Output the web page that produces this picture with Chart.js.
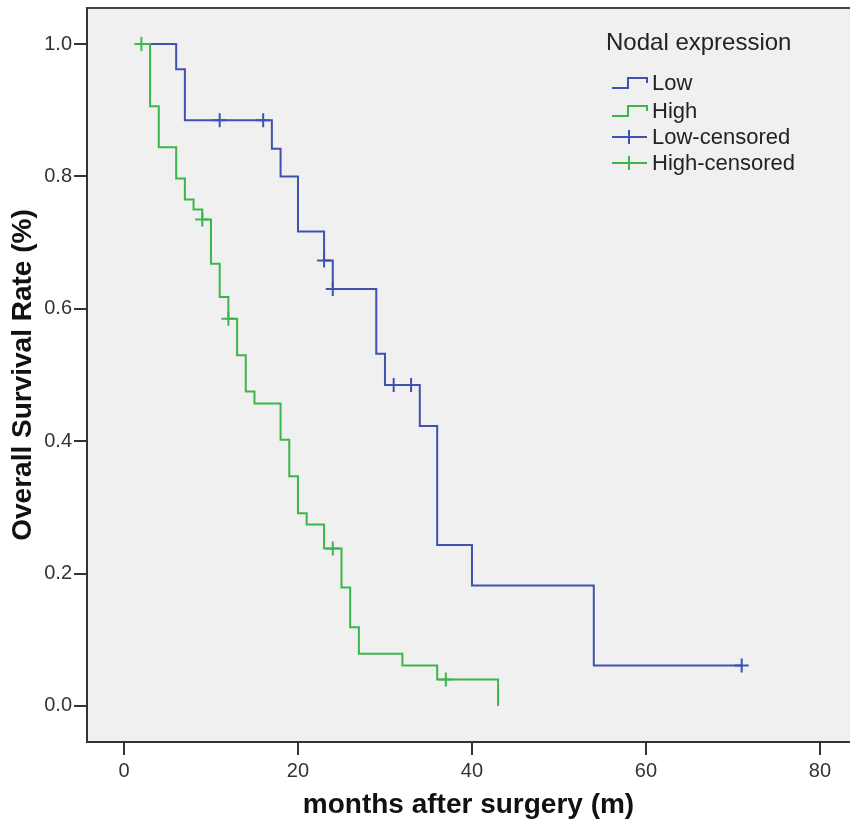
<!DOCTYPE html>
<html>
<head>
<meta charset="UTF-8">
<title>Overall survival by nodal expression</title>
<style>
  body { margin: 0; background: #fff; overflow: hidden; }
  .wrap { width: 850px; height: 827px; position: relative; }
</style>
</head>
<body>
<div class="wrap"><canvas id="km"></canvas></div>

<script src="https://cdn.jsdelivr.net/npm/chart.js"></script>
<script>
// Kaplan-Meier steps (months, survival)
const lowTimes = [2, 6, 7, 17, 18, 20, 23, 24, 29, 30, 34, 36, 40, 54, 71];
const lowSurv = [1.0, 0.962, 0.885, 0.842, 0.800, 0.717, 0.673, 0.630, 0.532, 0.485, 0.423, 0.243, 0.182, 0.061, 0.061];
const lowCensTimes = [11, 16, 23, 24, 31, 33, 71];
const lowCensSurv = [0.885, 0.885, 0.673, 0.630, 0.485, 0.485, 0.061];

const highTimes = [2, 3, 4, 6, 7, 8, 9, 10, 11, 12, 13, 14, 15, 18, 19, 20, 21, 23, 25, 26, 27, 32, 36, 43];
const highSurv = [1.0, 0.906, 0.844, 0.797, 0.765, 0.750, 0.735, 0.668, 0.618, 0.585, 0.530, 0.475, 0.457, 0.402, 0.347, 0.291, 0.274, 0.238, 0.179, 0.119, 0.079, 0.061, 0.040, 0.0];
const highCensTimes = [2, 9, 12, 24, 37];
const highCensSurv = [1.0, 0.735, 0.585, 0.238, 0.040];

const xTicks = [0, 20, 40, 60, 80];
const yTicks = [0, 0.2, 0.4, 0.6, 0.8, 1.0];

const legendTitle = 'Nodal expression';
const legendLabels = ['Low', 'High', 'Low-censored', 'High-censored'];

const BLUE = '#3e52ae';
const GREEN = '#3cb54b';
const FONT = '"Liberation Sans", Arial, sans-serif';

const pts = (xs, ys) => xs.map((x, i) => ({ x: x, y: ys[i] }));

// grey plot area + top frame line
const plotBox = {
    id: 'plotBox',
    beforeDraw(chart) {
        const { ctx, chartArea: a } = chart;
        ctx.save();
        ctx.fillStyle = '#f0f0f0';
        ctx.fillRect(a.left, a.top, a.right - a.left, a.bottom - a.top);
        ctx.restore();
    },
    afterDraw(chart) {
        const { ctx, chartArea: a } = chart;
        ctx.save();
        ctx.strokeStyle = '#444';
        ctx.lineWidth = 2;
        ctx.beginPath();
        ctx.moveTo(a.left, a.top);
        ctx.lineTo(a.right, a.top);
        ctx.stroke();
        ctx.restore();
    }
};

// SPSS style legend inside the plot
const kmLegend = {
    id: 'kmLegend',
    afterDraw(chart) {
        const ctx = chart.ctx;
        const colors = [BLUE, GREEN, BLUE, GREEN];
        const rows = [83, 111, 137, 163];
        ctx.save();
        ctx.fillStyle = '#222';
        ctx.textBaseline = 'middle';
        ctx.font = '24px ' + FONT;
        ctx.fillText(legendTitle, 606, 43);
        ctx.font = '22px ' + FONT;
        legendLabels.forEach((lab, i) => {
            const y = rows[i];
            ctx.strokeStyle = colors[i];
            ctx.lineWidth = 2;
            ctx.beginPath();
            if (i < 2) {
                ctx.moveTo(612, y + 5);
                ctx.lineTo(628, y + 5);
                ctx.lineTo(628, y - 5);
                ctx.lineTo(647, y - 5);
                ctx.lineTo(647, y);
            } else {
                ctx.moveTo(612, y);
                ctx.lineTo(647, y);
                ctx.moveTo(629, y - 7);
                ctx.lineTo(629, y + 7);
            }
            ctx.stroke();
            ctx.fillStyle = '#222';
            ctx.fillText(lab, 652, y + 1);
        });
        ctx.restore();
    }
};

new Chart(document.getElementById('km'), {
    type: 'scatter',
    data: {
        datasets: [
            {
                label: 'High-censored',
                data: pts(highCensTimes, highCensSurv),
                pointStyle: 'cross',
                pointRadius: 7,
                borderColor: GREEN,
                borderWidth: 2
            },
            {
                label: 'High',
                data: pts(highTimes, highSurv),
                showLine: true,
                stepped: 'before',
                borderColor: GREEN,
                borderWidth: 2,
                pointRadius: 0
            },
            {
                label: 'Low-censored',
                data: pts(lowCensTimes, lowCensSurv),
                pointStyle: 'cross',
                pointRadius: 7,
                borderColor: BLUE,
                borderWidth: 2
            },
            {
                label: 'Low',
                data: pts(lowTimes, lowSurv),
                showLine: true,
                stepped: 'before',
                borderColor: BLUE,
                borderWidth: 2,
                pointRadius: 0
            }
        ]
    },
    options: {
        responsive: true,
        maintainAspectRatio: false,
        animation: false,
        layout: { autoPadding: false, padding: { top: 8, right: 0, left: 0, bottom: 0 } },
        plugins: {
            legend: { display: false },
            tooltip: { enabled: false }
        },
        scales: {
            x: {
                type: 'linear',
                min: -4.25,
                max: 83.45,
                afterFit: s => { s.height = 85; s.paddingLeft = 0; s.paddingRight = 0; },
                afterBuildTicks: s => { s.ticks = xTicks.map(v => ({ value: v })); },
                grid: { drawOnChartArea: false, tickLength: 13, color: '#333', lineWidth: 2 },
                border: { display: true, color: '#333', width: 2 },
                ticks: { color: '#333', padding: 4, font: { family: FONT, size: 20 }, callback: v => v },
                title: {
                    display: true,
                    text: 'months after surgery (m)',
                    color: '#111',
                    font: { family: FONT, size: 28, weight: 'bold' },
                    padding: { top: 0, bottom: 5 }
                }
            },
            y: {
                type: 'linear',
                min: -0.0545,
                max: 1.0545,
                afterFit: s => { s.width = 87; s.paddingTop = 0; s.paddingBottom = 0; },
                afterBuildTicks: s => { s.ticks = yTicks.map(v => ({ value: v })); },
                grid: { drawOnChartArea: false, tickLength: 13, color: '#333', lineWidth: 2 },
                border: { display: true, color: '#333', width: 2 },
                ticks: { color: '#333', padding: 2, font: { family: FONT, size: 20 }, callback: v => v.toFixed(1) },
                title: {
                    display: true,
                    text: 'Overall Survival Rate (%)',
                    color: '#111',
                    font: { family: FONT, size: 28, weight: 'bold' },
                    padding: { top: 6, bottom: 0 }
                }
            }
        }
    },
    plugins: [plotBox, kmLegend]
});
</script>
</body>
</html>
